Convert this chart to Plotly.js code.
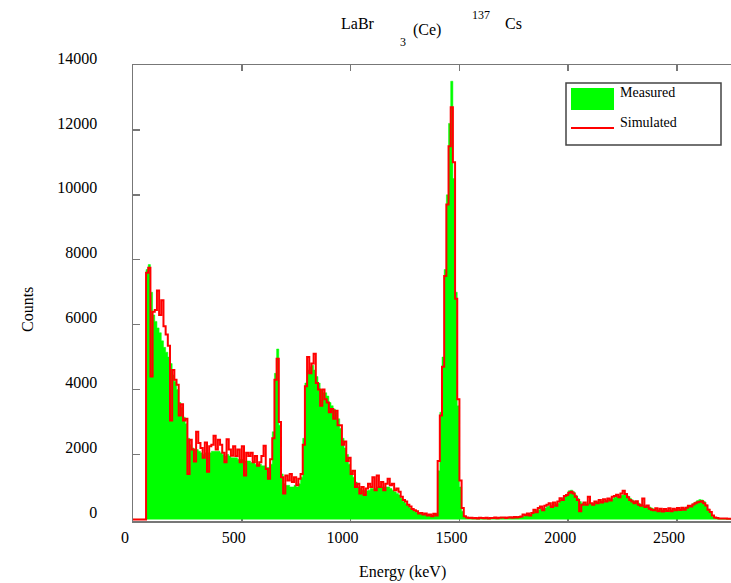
<!DOCTYPE html>
<html>
<head>
<meta charset="utf-8">
<script src="https://cdn.plot.ly/plotly-3.0.1.min.js"></script>
<style>html,body{margin:0;padding:0;background:#fff;}#chart{width:731px;height:583px;}</style>
</head>
<body>
<div id="chart"></div>
<script>
// Histogram bins: 10 keV wide, starting at 0 keV
var binStart = 0;
var binWidth = 10;

// Measured counts per bin (green filled)
var measured = [
  0,0,0,0,0,0,7700,7850,7000,6300,
  6100,5900,5750,5500,5300,5150,5000,4800,4450,4250,
  4000,3600,3450,3150,2950,2500,2300,2200,2150,2150,
  2100,2050,2000,2050,2050,2050,2100,2100,2100,2100,
  2050,2000,1950,2000,1950,1900,1900,1900,1850,1850,
  1850,1800,1800,1800,1750,1750,1700,1700,1700,1650,
  1650,1600,1600,1700,2700,4500,5250,2900,1400,1100,
  1050,1050,1000,1000,1050,1000,1100,1300,2500,4200,
  4600,4700,4750,4600,4400,4200,4000,3900,3900,3800,
  3600,3500,3400,3300,3100,2800,2500,2200,2000,1700,
  1500,1300,1150,1000,950,900,900,880,900,950,
  950,950,1000,980,1000,1000,1000,1000,950,900,
  850,800,750,650,550,500,420,350,300,250,
  220,200,180,160,150,140,130,130,150,180,
  1500,3300,5000,7700,10000,12200,13500,10500,7000,3500,
  1000,250,80,40,30,30,25,25,20,20,
  20,20,25,25,30,30,30,35,35,40,
  40,40,45,45,50,50,55,60,70,100,
  120,150,150,180,250,280,300,320,330,350,
  400,420,430,450,480,500,600,650,700,780,
  880,900,850,750,650,550,500,480,470,480,
  480,490,520,530,550,560,570,580,600,620,
  640,680,700,720,740,760,750,720,650,600,
  560,530,500,460,440,420,400,380,350,320,
  300,290,290,280,280,280,290,290,300,300,
  310,320,330,340,380,400,430,480,530,580,
  610,600,550,450,320,200,100,50,30,20,
  20,15,15,10,10
];

// Simulated counts per bin (red line)
var simulated = [
  0,0,0,0,0,0,7600,7750,4400,6400,
  6450,7050,6300,6750,5950,5700,5350,3050,4600,4300,
  4150,3200,3550,3050,3100,1400,2450,2150,1780,2700,
  2350,2200,1900,2370,1470,2250,2300,2580,2150,2450,
  2300,2050,1760,2470,2150,1960,2250,1950,2150,1760,
  2250,1350,2050,1950,2050,1760,1950,1650,1760,1950,
  2270,1550,1250,1850,2500,4300,4950,3000,1300,800,
  1350,1200,1400,1150,1300,1050,1250,1400,2300,4100,
  5000,4500,4800,5100,4200,4000,3500,4000,3700,3600,
  3300,3400,3100,3350,2900,2900,2300,2400,1800,1900,
  1400,1500,1000,1100,800,1000,750,950,1100,1000,
  1300,900,1350,1000,1150,900,1100,1250,1050,1100,
  900,950,850,700,600,550,450,400,320,280,
  250,180,200,150,180,120,150,100,170,120,
  1800,3200,4700,7500,9700,11500,12700,11000,6800,3700,
  1200,350,100,60,40,50,35,45,30,50,
  40,35,50,30,45,40,55,35,50,60,
  60,45,55,65,50,70,60,75,90,150,
  130,180,120,200,300,220,350,400,280,420,
  450,500,380,520,420,550,650,600,720,750,
  820,850,800,700,600,250,450,520,450,700,
  500,450,550,500,600,520,620,550,640,580,
  700,720,760,680,800,880,780,680,600,550,
  500,560,450,420,640,380,430,330,300,280,
  340,250,330,240,320,260,340,250,330,280,
  350,290,360,300,360,420,400,460,500,530,
  540,560,500,430,300,230,120,60,40,30,
  30,25,25,20,20
];

var yTicks = [0,2000,4000,6000,8000,10000,12000,14000];
var xTicks = [0,500,1000,1500,2000,2500];

// bin edges (left edge of each bin, plus the closing edge of the last bin)
var energy = measured.map(function(_, i){ return binStart + i*binWidth; });
energy.push(binStart + measured.length*binWidth);
var mY = measured.concat([measured[measured.length-1]]);
var sY = simulated.concat([simulated[simulated.length-1]]);

var serif = 'Liberation Serif, Times New Roman, serif';

var traces = [
  {x: energy, y: mY, type: 'scatter', mode: 'lines', line: {shape: 'hv', color: '#00ff00', width: 0.5},
   fill: 'tozeroy', fillcolor: '#00ff00', name: 'Measured', hoverinfo: 'x+y'},
  {x: energy, y: sY, type: 'scatter', mode: 'lines', line: {shape: 'hv', color: '#ff0000', width: 2},
   name: 'Simulated', hoverinfo: 'x+y'}
];

var L = 133, W = 598, B = 521, H = 456;
function px(x){ return (x - L)/W; }
function py(y){ return (B - y)/H; }

function ann(text, x, y, size, extra){
  var a = {text: text, x: px(x), y: py(y), xref: 'paper', yref: 'paper', showarrow: false,
           xanchor: 'center', yanchor: 'middle', font: {family: serif, size: size, color: '#000'}};
  for (var k in extra) a[k] = extra[k];
  return a;
}

var layout = {
  width: 731, height: 583,
  margin: {l: 133, r: 0, t: 65, b: 62},
  paper_bgcolor: '#fff', plot_bgcolor: '#fff',
  showlegend: false,
  font: {family: serif, size: 16, color: '#000'},
  xaxis: {
    range: [0, 2748], tickvals: xTicks, ticktext: xTicks.map(String),
    showgrid: false, zeroline: false, showline: true, mirror: 'ticks',
    linecolor: '#777', linewidth: 1.5, ticks: 'inside', ticklen: 6, tickcolor: '#777', tickwidth: 1.5,
    tickfont: {family: serif, size: 16, color: '#000'}, ticklabelstandoff: 1, ticklabelshift: -8,
    layer: 'below traces'
  },
  yaxis: {
    range: [-50, 14000], tickvals: yTicks, ticktext: yTicks.map(String),
    showgrid: false, zeroline: false, showline: true, mirror: false,
    linecolor: '#777', linewidth: 1.5, ticks: 'inside', ticklen: 7, tickcolor: '#777', tickwidth: 1.5,
    tickfont: {family: serif, size: 16, color: '#000'}, ticklabelstandoff: 31, ticklabelshift: -7,
    layer: 'below traces'
  },
  annotations: [
    ann('LaBr', 358, 23, 16),
    ann('3', 403, 42, 12),
    ann('(Ce)', 427, 30, 16),
    ann('137', 481, 15, 12),
    ann('Cs', 513, 23, 16),
    ann('Energy (keV)', 402, 572, 16),
    ann('Counts', 27, 310, 16, {textangle: -90}),
    ann('Measured', 618, 93, 14, {xanchor: 'left'}),
    ann('Simulated', 618, 122, 14, {xanchor: 'left'})
  ],
  shapes: [
    {type: 'rect', xref: 'paper', yref: 'paper', x0: px(566), x1: px(721), y0: py(145), y1: py(83),
     line: {color: '#444', width: 1.5}, fillcolor: 'rgba(255,255,255,0)'},
    {type: 'rect', xref: 'paper', yref: 'paper', x0: px(571), x1: px(614), y0: py(110), y1: py(88),
     line: {width: 0}, fillcolor: '#00ff00'},
    {type: 'line', xref: 'paper', yref: 'paper', x0: px(571), x1: px(614), y0: py(128), y1: py(128),
     line: {color: '#ff0000', width: 2}}
  ]
};

Plotly.newPlot('chart', traces, layout, {displayModeBar: false, staticPlot: true});
</script>
</body>
</html>
